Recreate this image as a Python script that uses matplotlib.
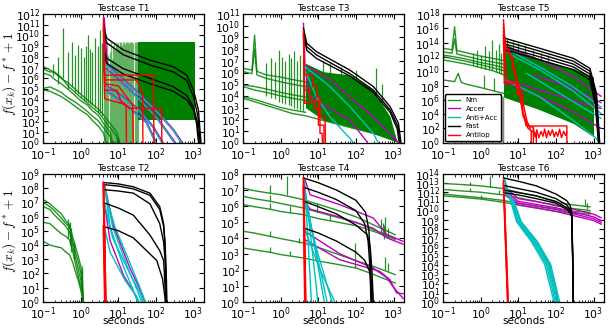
import numpy as np
import matplotlib
matplotlib.use('Agg')
import matplotlib.pyplot as plt
from matplotlib.ticker import FixedLocator, NullLocator, LogLocator, LogFormatterMathtext

# x values are seconds, y values are log10(f(x_k) - f* + 1)
# (-0.5 / -1 means the curve has dropped below the axis)

# ---------------- Testcase T1 ----------------
t1_nm = [
    ([0.1, 0.15, 0.2, 0.3, 0.45, 0.7, 1, 1.5, 2, 3, 4, 6, 9, 13], [7.09, 6.8, 6.5, 6.0, 5.6, 5.0, 4.5, 4.0, 3.6, 3.1, 2.6, 1.8, 1.0, -1]),
    ([0.1, 0.15, 0.2, 0.3, 0.45, 0.7, 1, 1.5, 2, 3, 4, 6, 9, 11], [6.85, 6.6, 6.6, 6.1, 5.3, 4.7, 4.2, 3.7, 3.3, 2.8, 2.2, 1.4, 0.6, -1]),
    ([0.1, 0.15, 0.2, 0.3, 0.45, 0.7, 1, 1.5, 2, 3, 4, 6, 8], [6.47, 6.3, 5.9, 5.5, 5.0, 4.4, 3.9, 3.5, 3.0, 2.5, 1.8, 1.0, -1]),
    ([0.1, 0.15, 0.2, 0.3, 0.45, 0.7, 1, 1.5, 2, 3, 4, 6, 7], [5.07, 5.2, 5.0, 4.7, 4.2, 3.8, 3.4, 2.9, 2.5, 2.0, 1.4, 0.6, -1]),
    ([0.1, 0.15, 0.2, 0.3, 0.45, 0.7, 1, 1.5, 2, 3, 4, 5.5], [4.92, 4.8, 4.6, 4.3, 3.9, 3.4, 3.0, 2.6, 2.1, 1.5, 0.9, -1]),
]
t1_nm_spike_x = [0.18, 0.25, 0.34, 0.45, 0.57, 0.7, 0.85, 1.0, 1.2, 1.4, 1.58, 1.8, 2.0, 2.4, 2.8, 3.24, 3.6]
t1_nm_spike_lo = [6.2, 5.5, 6.0, 5.0, 5.2, 4.6, 4.5, 4.2, 4.0, 3.9, 3.8, 3.6, 3.5, 3.2, 2.8, 2.8, 2.5]
t1_nm_spike_hi = [7.3, 8.0, 10.67, 8.5, 9.42, 8.2, 9.1, 8.8, 8.0, 9.0, 10.05, 8.7, 8.5, 9.74, 9.0, 10.5, 9.3]
t1_nm_osc_x = [4.2, 4.5, 4.8, 5.1, 5.4, 5.8, 6.2, 6.6, 7.0, 7.5, 8.0, 8.5, 9.0, 9.6, 10.2, 10.9, 11.6,
               12.4, 13.2, 14.1, 15.0, 16.0, 17.1, 18.2, 19.4, 20.7, 22.1, 23.6, 25.2, 26.9, 28.7, 30.6, 32.6]
t1_nm_osc_hi = [8.0, 9.0, 7.5, 9.4, 8.2, 8.5, 9.4, 7.8, 9.0, 9.4, 8.6, 9.4, 9.2, 9.4, 8.8, 9.4, 9.4,
                9.1, 9.4, 9.4, 9.2, 9.4, 9.4, 9.4, 9.3, 9.4, 9.4, 9.4, 9.3, 9.4, 9.4, 9.4, 9.4]
t1_nm_block_x = [34, 1100]
t1_nm_block_lo = [2.12, 2.12]
t1_nm_block_hi = [9.37, 9.37]
t1_accer = [
    ([4.1, 4.9, 13.5, 37, 105, 290, 560], [11.6, 7.3, 5.9, 4.5, 2.95, 1.2, -0.3]),
    ([4.9, 13.5, 37, 105, 235, 370], [6.85, 5.45, 4.05, 2.35, 0.65, -0.3]),
    ([4.9, 13.5, 37, 85, 170], [5.3, 4.25, 3.0, 1.45, -0.3]),
    ([4.9, 16.6, 56, 110], [4.8, 3.45, 1.9, -0.3]),
]
t1_anti = [
    ([4.9, 13.5, 37, 105, 290, 540], [7.25, 5.85, 4.45, 2.9, 1.18, -0.3]),
    ([4.9, 13.5, 37, 105, 235, 355], [6.78, 5.4, 4.0, 2.3, 0.6, -0.3]),
    ([4.9, 13.5, 37, 85, 160], [5.23, 4.2, 2.95, 1.4, -0.3]),
    ([4.9, 16.6, 56, 105], [4.76, 3.4, 1.86, -0.3]),
]
t1_fast = [
    ([4, 4.4, 4.9, 13.5, 69, 290, 660, 1000, 1350, 1660], [11.1, 10.3, 9.74, 8.65, 7.7, 7.09, 6.3, 4.9, 3.05, -1]),
    ([4, 4.4, 4.9, 13.5, 69, 290, 660, 1000, 1300, 1600], [10.5, 9.8, 9.3, 8.2, 7.25, 6.6, 5.8, 4.3, 2.5, -1]),
    ([4, 4.4, 4.9, 13.5, 69, 290, 660, 1000, 1250, 1520], [9.0, 8.3, 7.87, 6.9, 6.0, 5.22, 4.4, 3.3, 2.0, -1]),
    ([4, 4.4, 4.9, 13.5, 69, 290, 660, 1000, 1200, 1450], [8.6, 7.9, 7.4, 6.4, 5.5, 4.8, 4.0, 3.05, 1.8, -1]),
]
t1_antilop = [
    ([4.0, 4.2, 4.4, 85, 87, 88], [11.4, 6.5, 6.3, 6.3, 5.0, -1]),
    ([4.0, 4.3, 4.5, 30, 40, 44, 45], [11.0, 6.0, 5.85, 5.85, 5.0, 4.5, -1]),
    ([4.0, 4.3, 9, 12, 20, 140, 145], [10.5, 4.9, 4.9, 3.8, 3.2, 3.2, -1]),
    ([4.0, 4.3, 14, 16, 16.5], [10.0, 4.1, 3.6, 3.4, -1]),
    ([4.0, 4.4, 10, 24, 25], [10.8, 5.5, 5.3, 3.5, -1]),
]

# ---------------- Testcase T3 ----------------
t3_nm = [
    ([0.1, 0.17, 0.2, 0.23, 0.4, 1, 2, 4.5], [6.36, 6.2, 9.2, 6.1, 5.8, 5.6, 5.4, 5.2]),
    ([0.1, 0.17, 0.2, 0.23, 0.4, 1, 2, 4.5], [6.07, 5.9, 8.0, 5.8, 5.5, 5.2, 5.0, 4.8]),
    ([0.1, 0.2, 0.4, 1, 2, 4.5], [4.93, 4.8, 4.6, 4.3, 4.1, 3.9]),
    ([0.1, 0.2, 0.4, 1, 2, 4.5], [4.79, 4.5, 4.3, 4.0, 3.8, 3.6]),
    ([0.1, 0.2, 0.4, 1, 2, 4.5], [3.93, 3.7, 3.4, 3.0, 2.8, 2.6]),
    ([0.1, 0.2, 0.4, 1, 2, 4.5, 13.5, 69, 290, 1200], [3.79, 3.5, 3.2, 2.8, 2.5, 2.3, 1.9, 1.3, 0.8, 0.1]),
]
t3_nm_spike_x = [0.4, 0.55, 0.7, 0.9, 1.1, 1.3, 1.6, 1.9, 2.3, 2.7, 3.2, 3.8, 13.5, 20, 40, 100, 350, 500]
t3_nm_spike_lo = [4.0, 3.8, 3.7, 3.5, 3.4, 3.3, 3.2, 3.1, 3.0, 2.9, 2.8, 2.7, 5.5, 5.5, 5.2, 4.8, 4.0, 3.4]
t3_nm_spike_hi = [6.8, 7.2, 6.9, 7.9, 7.3, 7.0, 7.6, 7.2, 7.8, 7.0, 7.5, 7.1, 7.0, 6.8, 6.5, 6.2, 6.36, 5.0]
t3_nm_band_x = [4.5, 13.5, 69, 290, 810, 1200]
t3_nm_band_lo = [3.0, 1.94, 1.37, 0.8, 0.3, 0.09]
t3_nm_band_hi = [6.79, 6.07, 5.79, 4.5, 2.22, 0.23]
t3_accer = [
    ([4.0, 4.4, 20.4, 37, 290, 1200, 1500], [10.2, 6.6, 5.4, 4.65, 2.22, 0.23, -0.3]),
    ([4.4, 6, 69, 195, 230], [6.3, 3.93, 1.94, 0.09, -0.3]),
]
t3_anti = [
    ([4.4, 20.4, 69, 290, 435], [6.5, 4.79, 3.08, 0.8, -0.3]),
    ([4.4, 8.9, 20.4, 69, 100], [6.2, 3.9, 2.2, 0.37, -0.3]),
]
t3_fast = [
    ([4, 4.9, 8.9, 69, 290, 810, 1350, 1660], [9.78, 8.5, 7.78, 6.2, 4.8, 3.08, 1.66, -0.5]),
    ([4, 4.9, 8.9, 69, 290, 810, 1300, 1550], [9.5, 8.2, 7.5, 5.9, 4.5, 2.8, 1.4, -0.5]),
    ([4, 4.9, 8.9, 69, 290, 810, 1250, 1500], [9.2, 7.9, 7.2, 5.7, 4.3, 2.6, 1.2, -0.5]),
]
t3_antilop = [
    ([4.0, 4.3, 7, 7, 9, 9, 11, 11, 15, 15.5], [9.6, 5.8, 5.8, 4.8, 4.8, 3.9, 3.9, 2.2, 2.2, -0.5]),
    ([4.0, 4.3, 8, 8, 11, 11, 12.5, 13], [9.4, 3.37, 3.37, 2.9, 2.9, 0.8, 0.8, -0.5]),
    ([4.0, 4.3, 6, 6, 10, 10, 14, 14], [9.2, 4.5, 4.5, 3.6, 3.6, 1.5, 1.5, -0.5]),
]

# ---------------- Testcase T5 ----------------
t5_nm = [
    ([0.1, 0.17, 0.2, 0.23, 0.4, 1, 2, 4], [13.2, 13.0, 16.2, 12.9, 12.6, 12.1, 11.8, 11.5]),
    ([0.1, 0.17, 0.2, 0.23, 0.4, 1, 2, 4], [12.7, 12.5, 14.5, 12.4, 12.1, 11.6, 11.3, 11.0]),
    ([0.1, 0.2, 0.4, 1, 2, 4], [12.27, 12.0, 11.7, 11.2, 10.9, 10.5]),
    ([0.1, 0.2, 0.4, 1, 2, 4], [12.03, 11.7, 11.4, 10.9, 10.5, 10.1]),
    ([0.1, 0.2, 0.4, 1, 2, 4], [11.57, 11.3, 11.0, 10.5, 10.1, 9.5]),
    ([0.1, 0.2, 0.25, 0.3, 0.4, 1, 2, 4], [8.77, 8.55, 9.7, 8.45, 8.2, 7.7, 7.3, 6.9]),
]
t5_nm_spike_x = [0.6, 0.8, 1.0, 1.3, 1.6, 2.0, 2.5, 3.0, 3.5, 1.2, 2.2, 5, 7, 10, 15, 25, 40, 60]
t5_nm_spike_lo = [10.8, 10.6, 10.5, 10.3, 10.2, 10.1, 9.9, 9.7, 9.6, 7.6, 7.2, 12.5, 12.2, 12.0, 11.8, 11.5, 11.2, 11.0]
t5_nm_spike_hi = [12.5, 13.0, 12.3, 13.5, 12.8, 14.3, 13.0, 13.8, 12.5, 9.5, 9.0, 14.5, 14.2, 14.0, 13.6, 13.0, 12.6, 12.3]
t5_nm_band_x = [4, 37, 290, 1000]
t5_nm_band_lo = [6.4, 4.6, 2.7, 0.84]
t5_nm_band_hi = [13.9, 11.57, 10.4, 9.2]
t5_accer = [
    ([4.4, 37, 290, 1580], [13.4, 11.6, 9.2, 6.5]),
    ([25, 290, 1580], [9.5, 7.6, 5.6]),
    ([4.4, 20, 290, 1580], [8.8, 7.8, 5.9, 4.8]),
    ([4.4, 37, 290, 1580], [8.5, 6.5, 4.3, 2.0]),
]
t5_anti = [
    ([4.4, 37, 290, 1580], [13.2, 10.6, 7.8, 5.0]),
    ([4.4, 37, 290, 1580], [12.7, 10.2, 7.2, 4.1]),
    ([16.6, 100, 1580], [9.7, 7.2, 3.4]),
    ([4.4, 37, 290, 1200, 1580], [8.8, 6.4, 3.1, 0.6, -0.5]),
]
t5_fast = [
    ([4.0, 4.4, 37, 290, 800, 1200, 1480], [15.5, 14.6, 13.2, 11.8, 10.4, 6.9, -0.5]),
    ([4.0, 4.4, 37, 290, 800, 1180, 1450], [15.0, 14.2, 12.8, 11.4, 10.0, 6.5, -0.5]),
    ([4.0, 4.4, 37, 290, 800, 1160, 1420], [14.6, 13.8, 12.4, 11.0, 9.6, 6.0, -0.5]),
    ([4.0, 4.4, 37, 290, 800, 1140, 1400], [14.2, 13.4, 12.0, 10.6, 9.2, 5.6, -0.5]),
    ([4.0, 4.4, 37, 290, 800, 1120, 1380], [13.8, 13.0, 11.6, 10.2, 8.8, 5.2, -0.5]),
]
t5_antilop = [
    ([4.0, 4.4, 6.0, 8.9, 11, 13.5, 20.4, 25, 25], [17.2, 13.9, 12.5, 9.2, 6.4, 3.6, 2.2, 2.2, -0.5]),
    ([4.0, 4.9, 8, 10, 12, 13.5, 16, 37, 195, 195], [16.5, 8.5, 8.5, 7.5, 5.5, 4.0, 2.34, 2.34, 2.34, -0.5]),
    ([4.0, 4.6, 7, 7, 10, 12, 14, 17, 22, 22], [16.0, 12.8, 12.0, 10.5, 8.0, 7.4, 5.0, 3.0, 1.5, -0.5]),
    ([4.0, 4.2, 9, 9, 13, 13, 18, 30, 30], [15.0, 8.3, 8.3, 6.8, 6.8, 4.5, 2.0, 1.2, -0.5]),
]
t5_antilop_noise_x = [25, 28, 31, 35, 40, 45, 50, 56, 63, 70, 80, 90, 100, 112, 125, 140, 160, 180, 195]
t5_antilop_noise_y = [2.0, 0.8, 1.8, 0.7, 1.6, 0.9, 1.9, 0.7, 1.7, 1.0, 1.8, 0.8, 1.5, 0.9, 1.9, 0.7, 1.6, 1.0, 1.5]

# ---------------- Testcase T2 ----------------
t2_nm_x = [0.1, 0.15, 0.2, 0.3, 0.4, 0.5, 0.6, 0.7, 0.85, 1.0, 1.1, 1.2]
t2_nm_y = [
    [7.2, 6.9, 6.6, 6.2, 5.7, 5.4, 4.6, 4.0, 3.2, 2.5, 1.5, -0.5],
    [7.0, 6.7, 6.4, 5.9, 5.5, 5.3, 4.3, 3.6, 2.8, 2.0, 1.0, -0.5],
    [6.7, 6.5, 6.1, 5.65, 5.3, 4.9, 4.0, 3.2, 2.3, 1.5, 0.6, -0.5],
    [5.6, 5.5, 5.2, 4.8, 4.6, 4.35, 3.6, 2.8, 1.8, 1.0, 0.4, -0.5],
    [4.25, 4.0, 3.9, 3.8, 3.5, 3.3, 2.8, 2.2, 1.5, 0.8, 0.3, -0.5],
]
t2_nm_spike_x = [0.45, 0.5, 0.55, 0.65, 1.05, 1.1]
t2_nm_spike_lo = [4.5, 4.0, 3.5, 3.0, 1.0, 0.5]
t2_nm_spike_hi = [5.8, 5.6, 5.2, 4.2, 2.5, 2.2]
t2_accer = [
    ([4.2, 7.5, 20, 40, 55], [8.3, 5.3, 2.4, 0.7, -0.3]),
    ([4.2, 6, 14, 28, 38], [7.0, 4.3, 1.8, 0.5, -0.3]),
]
t2_anti = [
    ([4.2, 6, 13.5, 25, 35], [8.3, 5.3, 2.5, 0.8, -0.3]),
    ([4.2, 7, 17, 33, 45], [8.2, 5.3, 2.5, 0.7, -0.3]),
    ([4.2, 8, 22, 40, 57], [7.9, 5.3, 2.5, 0.8, -0.3]),
    ([4.2, 7, 20, 38, 50], [7.0, 4.5, 2.0, 0.6, -0.3]),
    ([4.2, 6, 15, 30, 40], [5.3, 3.5, 1.5, 0.4, -0.3]),
]
t2_fast = [
    ([4, 10, 25, 69, 126, 160, 175, 190, 195], [8.4, 8.3, 8.1, 7.65, 6.7, 5.5, 4.1, 1.5, -0.5]),
    ([4, 10, 25, 69, 126, 160, 175, 188, 193], [8.25, 8.15, 7.95, 7.5, 6.5, 5.3, 3.9, 1.3, -0.5]),
    ([4, 10, 25, 69, 126, 160, 175, 186, 190], [7.9, 7.8, 7.65, 6.9, 5.5, 4.2, 2.9, 0.8, -0.5]),
    ([4, 10, 25, 69, 126, 160, 175, 185], [6.98, 6.6, 6.1, 4.7, 3.6, 2.9, 1.0, -0.5]),
    ([4, 10, 25, 105, 150, 175, 180], [5.3, 5.0, 4.5, 2.9, 1.6, 0.2, -0.5]),
]
t2_antilop = [
    ([4.0, 4.6], [8.4, -0.5]),
    ([4.0, 4.5], [8.3, -0.5]),
    ([4.1, 4.6], [7.0, -0.5]),
    ([4.0, 4.4], [5.3, -0.5]),
]

# ---------------- Testcase T4 ----------------
t4_nm_x = [0.1, 0.2, 0.5, 1, 4, 10, 30, 105, 300, 1100]
t4_nm_y = [
    [7.12, 6.95, 6.8, 6.7, 6.39, 6.1, 5.75, 5.3, 4.8, 4.2],
    [6.6, 6.45, 6.3, 6.15, 5.87, 5.6, 5.3, 4.95, 4.5, 4.0],
    [6.08, 5.95, 5.8, 5.65, 5.45, 5.2, 5.0, 4.75, 4.4, 3.9],
    [4.41, 4.3, 4.1, 3.95, 3.68, 3.4, 3.0, 2.55, 2.2, 1.7],
    [3.36, 3.25, 3.1, 2.95, 2.74, 2.55, 2.35, 2.1, 1.7, 1.17],
]
t4_nm_spike_x = [0.5, 0.5, 0.5, 0.5, 0.5, 1.43, 1.8, 1.75, 3, 8.9, 20, 95, 450, 520, 560, 600, 700, 600, 700]
t4_nm_spike_lo = [6.8, 6.3, 5.8, 4.1, 3.1, 6.7, 5.6, 2.95, 3.7, 5.6, 5.1, 2.1, 4.3, 4.2, 3.9, 4.1, 4.0, 2.0, 1.9]
t4_nm_spike_hi = [7.33, 6.7, 6.2, 4.4, 3.4, 7.86, 6.0, 3.2, 4.0, 6.18, 5.5, 3.7, 5.2, 4.9, 4.8, 5.3, 4.6, 2.8, 2.4]
t4_accer = [
    ([4.4, 6, 37, 290, 660, 1800], [7.64, 6.7, 6.08, 5.24, 4.2, 3.78]),
    ([4.4, 6, 37, 290, 660, 1800], [6.3, 5.8, 5.3, 4.6, 4.0, 3.6]),
    ([4.4, 37, 435, 800, 1200, 1800], [3.88, 2.63, 1.9, 1.38, 0.55, 0.5]),
    ([4.4, 37, 290, 660, 1000, 1800], [4.4, 3.0, 2.1, 1.5, 0.9, 0.2]),
]
t4_anti = [
    ([4.2, 5.3, 6.6], [7.75, 3.8, -0.3]),
    ([4.2, 6.5, 10], [7.6, 3.7, -0.3]),
    ([4.2, 8, 15], [7.17, 3.4, -0.3]),
    ([4.2, 8.5, 18], [7.0, 3.3, -0.3]),
    ([4.2, 10, 25], [6.3, 2.9, -0.3]),
    ([4.2, 11, 31], [4.62, 2.0, -0.3]),
]
t4_fast = [
    ([4, 10, 30, 100, 180, 220, 240, 255, 262], [7.75, 7.45, 7.0, 6.35, 5.6, 4.5, 3.0, 1.0, -0.5]),
    ([4, 10, 30, 100, 170, 210, 230, 245, 252], [7.17, 6.85, 6.4, 5.7, 4.9, 3.8, 2.5, 0.8, -0.5]),
    ([4, 10, 30, 100, 200, 240, 265, 280, 290], [6.3, 5.95, 5.5, 4.8, 4.2, 3.4, 2.0, 0.8, -0.5]),
    ([4, 10, 30, 100, 170, 230, 260, 280, 290], [4.62, 4.3, 3.8, 3.1, 2.6, 1.9, 1.2, 0.4, -0.5]),
]
t4_antilop = [
    ([4.0, 4.5], [7.75, -0.5]),
    ([4.0, 4.4], [7.17, -0.5]),
    ([4.1, 4.6], [6.3, -0.5]),
]

# ---------------- Testcase T6 ----------------
t6_nm_x = [0.1, 0.3, 1, 4, 10, 30, 100, 300, 800]
t6_nm_y = [
    [12.96, 12.85, 12.7, 12.4, 12.0, 11.6, 10.9, 10.6, 10.4],
    [12.3, 12.15, 12.0, 11.7, 11.4, 11.0, 10.5, 10.2, 10.0],
    [11.8, 11.6, 11.4, 11.1, 10.8, 10.5, 10.2, 9.9, 9.8],
    [11.6, 11.45, 11.25, 10.9, 10.6, 10.3, 9.9, 9.7, 9.6],
]
t6_nm_spike_x = [0.5, 0.5, 1.0, 1.74, 3.0, 600, 650]
t6_nm_spike_lo = [12.8, 12.1, 11.3, 12.55, 11.8, 10.5, 10.2]
t6_nm_spike_hi = [13.1, 12.5, 11.7, 13.75, 12.3, 11.25, 10.8]
t6_accer = [
    ([4.4, 10, 100, 1000, 1600], [12.5, 11.3, 10.6, 9.6, 9.2]),
    ([4.4, 10, 100, 1000, 1600], [12.2, 11.0, 10.3, 9.3, 8.9]),
    ([4.4, 10, 100, 1000, 1600], [11.9, 10.8, 10.1, 9.1, 8.7]),
    ([4.4, 10, 100, 1000, 1600], [11.7, 10.6, 9.9, 8.9, 8.5]),
]
t6_anti = [
    ([4.2, 6.0, 9, 22, 50, 92], [13.57, 11.25, 8.75, 6.6, 4.1, -0.3]),
    ([4.2, 6.3, 9.5, 24, 55, 100], [13.4, 11.25, 8.75, 6.6, 4.1, -0.3]),
    ([4.2, 6.6, 10, 26, 60, 108], [12.75, 11.2, 8.8, 6.6, 4.1, -0.3]),
    ([4.2, 7, 11, 28, 64, 115], [12.5, 11.2, 8.75, 6.6, 4.1, -0.3]),
    ([4.2, 7.3, 11.5, 30, 68, 122], [12.25, 11.1, 8.75, 6.6, 4.1, -0.3]),
    ([4.2, 7.6, 12, 32, 72, 130], [11.96, 11.0, 8.75, 6.6, 4.1, -0.3]),
]
t6_fast_x = [4, 10, 30, 100, 195, 240, 263, 280, 290]
t6_fast_y = [
    [13.57, 13.2, 12.7, 11.8, 11.07, 10.5, 9.8, 5.0, -0.5],
    [12.75, 12.4, 12.0, 11.3, 10.6, 10.1, 9.5, 4.5, -0.5],
    [12.25, 11.95, 11.6, 11.0, 10.3, 9.9, 9.4, 4.2, -0.5],
    [11.96, 11.7, 11.3, 10.8, 10.1, 9.7, 9.3, 4.0, -0.5],
]
t6_antilop = [
    ([4.0, 5.3], [13.3, -0.5]),
    ([4.0, 5.2], [13.0, -0.5]),
    ([4.1, 5.4], [12.5, -0.5]),
]

labels = ['Nm', 'Accer', 'Anti+Acc', 'Fast', 'Antilop']

plt.rcParams.update({
    'font.family': 'DejaVu Sans',
    'mathtext.fontset': 'cm',
    'xtick.direction': 'in', 'ytick.direction': 'in',
    'xtick.top': True, 'ytick.right': True,
    'xtick.labelsize': 7.8, 'ytick.labelsize': 7.8,
    'xtick.major.size': 3.5, 'ytick.major.size': 3.5,
    'xtick.minor.size': 1.8, 'ytick.minor.size': 1.8,
    'xtick.major.pad': 2.5, 'ytick.major.pad': 2,
    'axes.linewidth': 0.9,
})


def draw(ax, curves, color, lw=1.0, alpha=1.0, label=None):
    for i, (xs, ys) in enumerate(curves):
        ax.plot(xs, 10.0 ** np.asarray(ys, dtype=float), color=color, lw=lw, alpha=alpha,
                label=label if i == 0 else None)


def spikes(ax, xs, lo, hi, alpha=0.85):
    ax.vlines(xs, 10.0 ** np.asarray(lo), 10.0 ** np.asarray(hi), color='g', lw=0.9, alpha=alpha)


def band(ax, xs, lo, hi):
    ax.fill_between(xs, 10.0 ** np.asarray(lo), 10.0 ** np.asarray(hi), color='g', lw=0)


def style(ax, title, ytop, ystep):
    ax.set_xscale('log')
    ax.set_yscale('log')
    ax.set_xlim(0.1, 1900)
    ax.set_ylim(1, 10.0 ** ytop)
    ax.xaxis.set_major_locator(FixedLocator([0.1, 1, 10, 100, 1000]))
    ax.xaxis.set_minor_locator(LogLocator(base=10, subs=np.arange(2, 10)))
    ax.xaxis.set_major_formatter(LogFormatterMathtext())
    ax.yaxis.set_major_locator(FixedLocator(10.0 ** np.arange(0, ytop + 1, ystep)))
    ax.yaxis.set_minor_locator(NullLocator())
    ax.yaxis.set_major_formatter(LogFormatterMathtext())
    ax.set_title(title, fontsize=6.5, pad=2.5)


fig = plt.figure(figsize=(6.09, 3.30), dpi=100)
fig.patch.set_facecolor('white')
lefts = [43.3 / 609, 243.3 / 609, 443.3 / 609]
w = 160.7 / 609
top_b, top_h = (330 - 142.7) / 330, 128.7 / 330
bot_b, bot_h = (330 - 301.7) / 330, 127.7 / 330
ax1 = fig.add_axes([lefts[0], top_b, w, top_h])
ax3 = fig.add_axes([lefts[1], top_b, w, top_h])
ax5 = fig.add_axes([lefts[2], top_b, w, top_h])
ax2 = fig.add_axes([lefts[0], bot_b, w, bot_h])
ax4 = fig.add_axes([lefts[1], bot_b, w, bot_h])
ax6 = fig.add_axes([lefts[2], bot_b, w, bot_h])

# T1
band(ax1, t1_nm_block_x, t1_nm_block_lo, t1_nm_block_hi)
spikes(ax1, t1_nm_osc_x, [-1] * len(t1_nm_osc_x), t1_nm_osc_hi, alpha=0.55)
spikes(ax1, t1_nm_spike_x, t1_nm_spike_lo, t1_nm_spike_hi)
draw(ax1, t1_nm, 'g', alpha=0.85)
draw(ax1, t1_accer, 'm', lw=1.6)
draw(ax1, t1_anti, 'c')
draw(ax1, t1_fast, 'k')
draw(ax1, t1_antilop, 'r')
style(ax1, 'Testcase T1', 12, 1)

# T3
band(ax3, t3_nm_band_x, t3_nm_band_lo, t3_nm_band_hi)
spikes(ax3, t3_nm_spike_x, t3_nm_spike_lo, t3_nm_spike_hi)
draw(ax3, t3_nm, 'g', alpha=0.85)
draw(ax3, t3_accer, 'm')
draw(ax3, t3_anti, 'c')
draw(ax3, t3_fast, 'k')
draw(ax3, t3_antilop, 'r')
style(ax3, 'Testcase T3', 11, 1)

# T5
band(ax5, t5_nm_band_x, t5_nm_band_lo, t5_nm_band_hi)
spikes(ax5, t5_nm_spike_x, t5_nm_spike_lo, t5_nm_spike_hi)
draw(ax5, t5_nm, 'g', alpha=0.85, label=labels[0])
draw(ax5, t5_accer, 'm', label=labels[1])
draw(ax5, t5_anti, 'c', label=labels[2])
draw(ax5, t5_fast, 'k', label=labels[3])
draw(ax5, t5_antilop, 'r', label=labels[4])
ax5.plot(t5_antilop_noise_x, 10.0 ** np.asarray(t5_antilop_noise_y), color='r', lw=1.0)
style(ax5, 'Testcase T5', 18, 2)
leg = ax5.legend(loc='lower left', fontsize=5, fancybox=True, shadow=True,
                 borderaxespad=0.25, handlelength=1.8, labelspacing=0.4,
                 borderpad=0.4, handletextpad=0.8, framealpha=1)
leg.get_frame().set_edgecolor('k')

# T2
spikes(ax2, t2_nm_spike_x, t2_nm_spike_lo, t2_nm_spike_hi)
draw(ax2, [(t2_nm_x, ys) for ys in t2_nm_y], 'g', alpha=0.85)
draw(ax2, t2_accer, 'm')
draw(ax2, t2_anti, 'c')
draw(ax2, t2_fast, 'k')
draw(ax2, t2_antilop, 'r', lw=1.4)
style(ax2, 'Testcase T2', 9, 1)

# T4
spikes(ax4, t4_nm_spike_x, t4_nm_spike_lo, t4_nm_spike_hi)
draw(ax4, [(t4_nm_x, ys) for ys in t4_nm_y], 'g', alpha=0.85)
draw(ax4, t4_accer, 'm')
draw(ax4, t4_anti, 'c')
draw(ax4, t4_fast, 'k')
draw(ax4, t4_antilop, 'r', lw=1.4)
style(ax4, 'Testcase T4', 8, 1)

# T6
spikes(ax6, t6_nm_spike_x, t6_nm_spike_lo, t6_nm_spike_hi)
draw(ax6, [(t6_nm_x, ys) for ys in t6_nm_y], 'g', alpha=0.85)
draw(ax6, t6_accer, 'm')
draw(ax6, t6_anti, 'c')
draw(ax6, [(t6_fast_x, ys) for ys in t6_fast_y], 'k')
draw(ax6, t6_antilop, 'r', lw=1.2)
style(ax6, 'Testcase T6', 14, 1)

ax1.set_ylabel(r'$f(x_k)-f^*+1$', fontsize=9.5)
ax1.yaxis.set_label_coords(-0.155, 0.53)
ax2.set_ylabel(r'$f(x_k)-f^*+1$', fontsize=9.5)
ax2.yaxis.set_label_coords(-0.155, 0.55)
for ax in (ax2, ax4, ax6):
    ax.set_xlabel('seconds', fontsize=7.5)
    ax.xaxis.set_label_coords(0.5, -0.115)

fig.savefig('out.png', dpi=100, facecolor='white')
